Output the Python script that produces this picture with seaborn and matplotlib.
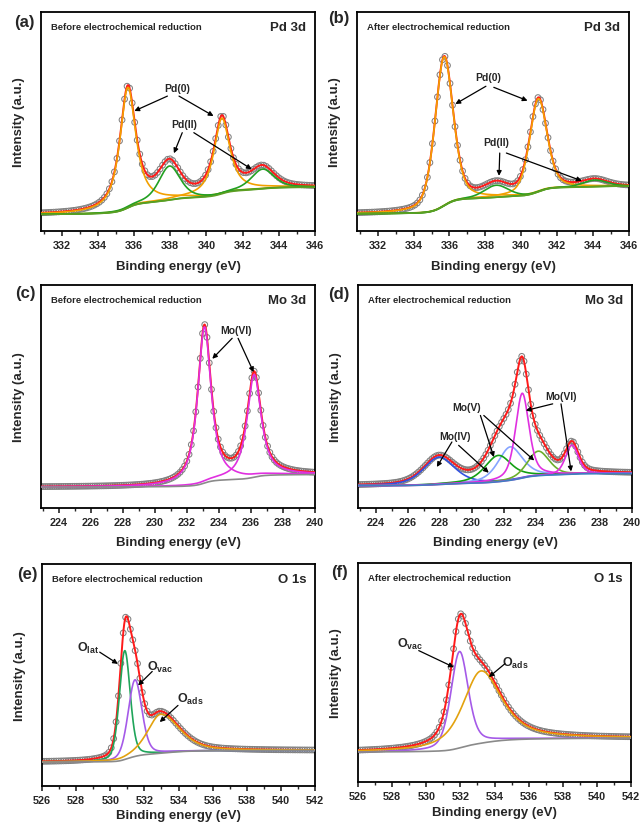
import numpy as np
import seaborn as sns
import matplotlib.pyplot as plt

# ---------------- data (y: 0 = axis bottom, 1 = axis top)
# (a) Pd 3d, before electrochemical reduction
a_center = [335.65, 340.85, 337.95, 343.10]
a_height = [0.55, 0.345, 0.155, 0.09]
a_fwhm = [1.05, 1.05, 1.40, 1.50]
a_lorentz = [0.85, 0.85, 0.5, 0.5]
a_tail = [1.0, 1.0, 1.0, 1.0]
a_bg = [0.076, 0.200]

# (b) Pd 3d, after electrochemical reduction
b_center = [335.70, 340.95, 338.60, 344.10]
b_height = [0.68, 0.425, 0.055, 0.03]
b_fwhm = [1.20, 1.15, 1.60, 1.60]
b_lorentz = [0.4, 0.4, 0.3, 0.3]
b_tail = [1.0, 1.0, 1.0, 1.0]
b_bg = [0.079, 0.205]

# (c) Mo 3d, before
c_center = [233.10, 236.20]
c_height = [0.70, 0.46]
c_fwhm = [1.00, 1.05]
c_lorentz = [0.85, 0.85]
c_tail = [1.0, 1.0]
c_bg = [0.094, 0.150]

# (d) Mo 3d, after: Mo(IV), Mo(IV), Mo(V), Mo(V), Mo(VI), Mo(VI)
d_center = [227.95, 232.40, 231.65, 234.15, 233.15, 236.25]
d_height = [0.122, 0.150, 0.118, 0.110, 0.380, 0.130]
d_fwhm = [2.30, 1.80, 2.00, 1.60, 1.00, 0.95]
d_lorentz = [0.5, 0.5, 0.5, 0.4, 0.5, 0.4]
d_tail = [1.0, 1.0, 1.0, 1.0, 1.0, 1.0]
d_bg = [0.100, 0.155]

# (e) O 1s, before: O_lat, O_vac, O_ads
e_center = [530.85, 531.45, 532.95]
e_height = [0.49, 0.345, 0.175]
e_fwhm = [0.75, 0.95, 1.80]
e_lorentz = [0.3, 0.3, 0.5]
e_tail = [1.0, 1.0, 1.45]
e_bg = [0.108, 0.160]

# (f) O 1s, after: O_vac, O_ads
f_center = [531.95, 533.20]
f_height = [0.44, 0.33]
f_fwhm = [1.20, 2.50]
f_lorentz = [0.4, 0.7]
f_tail = [1.0, 1.15]
f_bg = [0.137, 0.200]

W, H = 644, 829

sns.set_style("ticks")
plt.rcParams["font.family"] = ["Liberation Sans", "DejaVu Sans"]
plt.rcParams["font.weight"] = "bold"
plt.rcParams["axes.labelweight"] = "bold"
plt.rcParams["mathtext.fontset"] = "custom"
plt.rcParams["mathtext.rm"] = "Liberation Sans:bold"
plt.rcParams["mathtext.bf"] = "Liberation Sans:bold"


def peak(x, c, h, w, eta, tail):
    ww = np.where(x > c, w * tail, w)
    r = (x - c) / ww
    return h * (eta / (1 + 4 * r ** 2) + (1 - eta) * np.exp(-4 * np.log(2) * r ** 2))


def add_box(fig, left, top, right, bottom):
    return fig.add_axes([left / W, 1 - bottom / H, (right - left) / W, (bottom - top) / H])


def draw_panel(ax, xlim, params, bg_ends, colors, bg_color, draw_bg=True):
    x = np.arange(xlim[0], xlim[1] + 1e-9, 0.02)
    comps = [peak(x, *p) for p in zip(*params)]
    total = np.sum(comps, axis=0)
    # Shirley-type background built from the fitted area
    s = np.cumsum(total)
    s = s / s[-1]
    bg = bg_ends[0] + (bg_ends[1] - bg_ends[0]) * s
    env = bg + total
    sns.scatterplot(x=x[::7], y=env[::7], ax=ax, s=17, marker="o",
                    facecolor="none", edgecolor="#808080", linewidth=0.75, zorder=2)
    sns.lineplot(x=x, y=env, color="#ff1a1a", lw=1.4, ax=ax, zorder=3)
    for comp, col in zip(comps, colors):
        sns.lineplot(x=x, y=bg + comp, color=col, lw=1.2, ax=ax, zorder=4)
    if draw_bg:
        sns.lineplot(x=x, y=bg, color=bg_color, lw=1.2, ax=ax, zorder=4)


def style_axes(ax, xlim, ticks, h_px, lab_off):
    ax.set_xticks(ticks)
    ax.set_xticks(np.arange(ticks[0] - 1, xlim[1] + 0.01, 1), minor=True)
    ax.set_yticks([])
    ax.set_xlim(*xlim)
    ax.set_ylim(0, 1)
    ax.tick_params(axis="x", which="major", direction="out", length=3.5, width=1.2,
                   labelsize=7.8, pad=3)
    ax.tick_params(axis="x", which="minor", direction="out", length=2, width=1.0)
    for lab in ax.get_xticklabels():
        lab.set_fontweight("bold")
    for sp in ax.spines.values():
        sp.set_linewidth(1.3)
        sp.set_color("black")
    ax.set_xlabel("Binding energy (eV)", fontsize=9.5, fontweight="bold")
    ax.xaxis.set_label_coords(0.5, -lab_off / h_px)
    ax.xaxis.label.set_va("center")
    ax.set_ylabel("Intensity (a.u.)", fontsize=9.5, fontweight="bold")
    ax.yaxis.set_label_coords(-0.058, 0.5)


def arrow(ax, tail, head):
    ax.annotate("", xy=head, xytext=tail,
                arrowprops=dict(arrowstyle="-|>", color="black", lw=0.9,
                                mutation_scale=7, shrinkA=0, shrinkB=0), zorder=6)


fig = plt.figure(figsize=(W / 100, H / 100), dpi=100)

boxes = {
    "a": (41, 13, 315, 232), "b": (357, 13, 629, 232),
    "c": (41, 286, 315, 509), "d": (358, 286, 632, 509),
    "e": (42, 565, 315, 787), "f": (358, 564, 631, 783),
}
axs = {k: add_box(fig, *v) for k, v in boxes.items()}

pd_lim = (330.85, 346)
mo_lim = (222.9, 240)
o_lim = (526, 542)
pd_ticks = np.arange(332, 347, 2)
mo_ticks = np.arange(224, 241, 2)
o_ticks = np.arange(526, 543, 2)

orange = "#f2a000"
green = "#22a022"
olive_bg = "#5d9e22"
gray = "#8a8a8a"
magenta = "#e030e0"
purple = "#a55ae8"
o_orange = "#e3a20e"
o_green = "#1fa55a"

draw_panel(axs["a"], pd_lim, (a_center, a_height, a_fwhm, a_lorentz, a_tail), a_bg,
           [orange, orange, green, green], olive_bg)
draw_panel(axs["b"], pd_lim, (b_center, b_height, b_fwhm, b_lorentz, b_tail), b_bg,
           [orange, orange, green, green], olive_bg)
draw_panel(axs["c"], mo_lim, (c_center, c_height, c_fwhm, c_lorentz, c_tail), c_bg,
           [magenta, magenta], gray)
draw_panel(axs["d"], mo_lim, (d_center, d_height, d_fwhm, d_lorentz, d_tail), d_bg,
           ["#3352e0", "#86a4ff", "#14a014", "#6cae2c", magenta, magenta], "#3f7fc0")
draw_panel(axs["e"], o_lim, (e_center, e_height, e_fwhm, e_lorentz, e_tail), e_bg,
           [o_green, purple, o_orange], gray)
draw_panel(axs["f"], o_lim, (f_center, f_height, f_fwhm, f_lorentz, f_tail), f_bg,
           [purple, o_orange], gray)

for k, lim, ticks, off in [("a", pd_lim, pd_ticks, 35), ("b", pd_lim, pd_ticks, 35),
                           ("c", mo_lim, mo_ticks, 34), ("d", mo_lim, mo_ticks, 34),
                           ("e", o_lim, o_ticks, 29), ("f", o_lim, o_ticks, 30)]:
    l, t, r, b = boxes[k]
    style_axes(axs[k], lim, ticks, b - t, off)

# panel letters
for k, (px, py) in {"a": (24, 22), "b": (339, 18), "c": (25, 294), "d": (339, 295),
                    "e": (27, 575), "f": (340, 572)}.items():
    fig.text(px / W, 1 - py / H, f"({k})", fontsize=12, fontweight="bold",
             ha="center", va="center")

conds = {"a": "Before", "b": "After", "c": "Before", "d": "After", "e": "Before", "f": "After"}
cores = {"a": "Pd 3d", "b": "Pd 3d", "c": "Mo 3d", "d": "Mo 3d", "e": "O 1s", "f": "O 1s"}
for k, ax in axs.items():
    ax.text(0.038, 0.934, f"{conds[k]} electrochemical reduction", transform=ax.transAxes,
            fontsize=6.8, fontweight="bold", ha="left", va="center")
    ax.text(0.968, 0.932, cores[k], transform=ax.transAxes, fontsize=9.5,
            fontweight="bold", ha="right", va="center")

# annotations
ax = axs["a"]
ax.text(338.39, 0.654, "Pd(0)", fontsize=7.5, ha="center", va="center")
arrow(ax, (337.84, 0.616), (336.01, 0.548))
arrow(ax, (338.48, 0.616), (340.39, 0.525))
ax.text(338.75, 0.487, "Pd(II)", fontsize=7.5, ha="center", va="center")
arrow(ax, (338.66, 0.449), (338.20, 0.355))
arrow(ax, (339.30, 0.449), (342.50, 0.282))

ax = axs["b"]
ax.text(338.16, 0.702, "Pd(0)", fontsize=7.5, ha="center", va="center")
arrow(ax, (338.03, 0.661), (336.33, 0.580))
arrow(ax, (338.47, 0.656), (340.35, 0.595))
ax.text(338.62, 0.405, "Pd(II)", fontsize=7.5, ha="center", va="center")
arrow(ax, (338.80, 0.356), (338.76, 0.252))
arrow(ax, (339.17, 0.356), (343.37, 0.229))

ax = axs["c"]
ax.text(235.04, 0.796, "Mo(VI)", fontsize=7.5, ha="center", va="center")
arrow(ax, (234.83, 0.761), (233.59, 0.669))
arrow(ax, (235.20, 0.761), (236.17, 0.609))

ax = axs["d"]
ax.text(235.57, 0.504, "Mo(VI)", fontsize=7.5, ha="center", va="center")
arrow(ax, (235.05, 0.467), (233.37, 0.437))
arrow(ax, (235.57, 0.467), (236.20, 0.164))
ax.text(229.70, 0.452, "Mo(V)", fontsize=7.5, ha="center", va="center")
arrow(ax, (230.54, 0.415), (231.38, 0.228))
arrow(ax, (230.75, 0.415), (233.90, 0.213))
ax.text(228.97, 0.325, "Mo(IV)", fontsize=7.5, ha="center", va="center")
arrow(ax, (228.76, 0.296), (227.82, 0.184))
arrow(ax, (229.18, 0.281), (231.06, 0.158))

ax = axs["e"]
ax.text(528.70, 0.622, r"O$_{\mathbf{lat}}$", fontsize=9, ha="center", va="center")
arrow(ax, (529.38, 0.603), (530.45, 0.550))
ax.text(532.95, 0.540, r"O$_{\mathbf{vac}}$", fontsize=9, ha="center", va="center")
arrow(ax, (532.46, 0.516), (531.63, 0.453))
ax.text(534.70, 0.393, r"O$_{\mathbf{ads}}$", fontsize=9, ha="center", va="center")
arrow(ax, (533.97, 0.363), (532.90, 0.288))

ax = axs["f"]
ax.text(529.07, 0.631, r"O$_{\mathbf{vac}}$", fontsize=9, ha="center", va="center")
arrow(ax, (529.56, 0.600), (531.62, 0.524))
ax.text(535.24, 0.547, r"O$_{\mathbf{ads}}$", fontsize=9, ha="center", va="center")
arrow(ax, (534.61, 0.540), (533.67, 0.479))

fig.savefig("out.png", dpi=100)
